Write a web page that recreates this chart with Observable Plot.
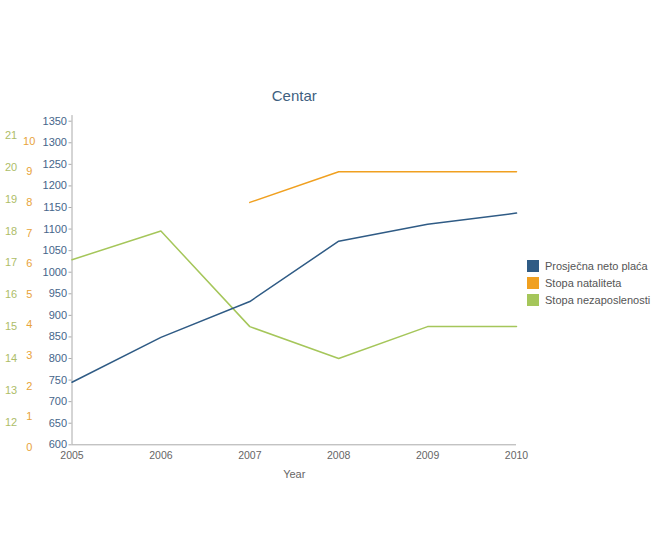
<!DOCTYPE html>
<html>
<head>
<meta charset="utf-8">
<script src="https://cdn.jsdelivr.net/npm/d3@7"></script>
<script src="https://cdn.jsdelivr.net/npm/@observablehq/plot@0.6"></script>
<style>
  html, body { margin: 0; padding: 0; background: #fff; }
  #wrap { position: relative; width: 654px; height: 541px; font-family: "Liberation Sans", Arial, sans-serif; }
  #legend { position: absolute; left: 527px; top: 257px; font-size: 11px; color: #555; }
  #legend .item { display: flex; align-items: center; height: 17px; }
  #legend .sw { width: 12px; height: 12px; margin-right: 6px; }
</style>
</head>
<body>
<div id="wrap"></div>
<script>
const years = [2005, 2006, 2007, 2008, 2009, 2010];
const placa = [745, 849, 932, 1072, 1111, 1137];          // Prosječna neto plaća
const natalitet = [null, null, 8, 9, 9, 9];               // Stopa nataliteta
const nezaposlenost = [17.1, 18, 15, 14, 15, 15];         // Stopa nezaposlenosti
const seriesNames = ["Prosječna neto plaća", "Stopa nataliteta", "Stopa nezaposlenosti"];
const seriesColors = ["#2f5b85", "#f0a020", "#a5c65a"];
const mainTicks = d3.range(600, 1351, 50);
const natTicks = d3.range(0, 11, 1);
const nezTicks = d3.range(12, 22, 1);

// secondary axes calibrated onto the main value scale
const natToMain = d3.scaleLinear([0, 10], [594.4, 1303.7]);
const nezToMain = d3.scaleLinear([12, 21], [652.4, 1316.9]);

const blue = years.map((y, i) => ({year: y, v: placa[i]}));
const orange = years.map((y, i) => ({year: y, v: natalitet[i]})).filter(d => d.v != null);
const green = years.map((y, i) => ({year: y, v: nezaposlenost[i]}));

const chart = Plot.plot({
  width: 654,
  height: 541,
  marginLeft: 71.5,
  marginRight: 138,
  marginTop: 120.7,
  marginBottom: 96.7,
  style: {fontFamily: "Liberation Sans, Arial, sans-serif", fontSize: "11px", background: "#fff", overflow: "visible"},
  x: {type: "linear", domain: [2005, 2010]},
  y: {domain: [600, 1350]},
  marks: [
    Plot.ruleX([2005], {y1: 600, y2: 1363, stroke: "#aaa", strokeWidth: 1}),
    Plot.ruleY([600], {stroke: "#aaa", strokeWidth: 1}),
    Plot.axisY({ticks: mainTicks, tickFormat: d => String(d), tickSize: 3, tickPadding: 2, stroke: "#aaa", fill: "#46658a", fontSize: 11, label: null}),
    Plot.text(natTicks, {y: d => natToMain(d), text: d => String(d), frameAnchor: "left", dx: -42.8, textAnchor: "middle", fill: "#e8a33a", fontSize: 11}),
    Plot.text(nezTicks, {y: d => nezToMain(d), text: d => String(d), frameAnchor: "left", dx: -61, textAnchor: "middle", fill: "#adbd68", fontSize: 11}),
    Plot.axisX({ticks: years, tickFormat: d => String(d), tickSize: 0, tickPadding: 7, fill: "#666", fontSize: 10.5, label: null}),
    Plot.text(["Year"], {frameAnchor: "bottom", dy: 29.7, lineAnchor: "middle", fill: "#666", fontSize: 11}),
    Plot.text(["Centar"], {frameAnchor: "top", dy: -25, lineAnchor: "middle", fill: "#3f5f7f", fontSize: 15}),
    Plot.line(green, {x: "year", y: d => nezToMain(d.v), stroke: seriesColors[2], strokeWidth: 1.5}),
    Plot.line(orange, {x: "year", y: d => natToMain(d.v), stroke: seriesColors[1], strokeWidth: 1.5}),
    Plot.line(blue, {x: "year", y: "v", stroke: seriesColors[0], strokeWidth: 1.5})
  ]
});

const wrap = document.getElementById("wrap");
wrap.appendChild(chart);
const legend = document.createElement("div");
legend.id = "legend";
seriesNames.forEach((n, i) => {
  const it = document.createElement("div");
  it.className = "item";
  it.innerHTML = `<span class="sw" style="background:${seriesColors[i]}"></span><span>${n}</span>`;
  legend.appendChild(it);
});
wrap.appendChild(legend);
</script>
</body>
</html>
